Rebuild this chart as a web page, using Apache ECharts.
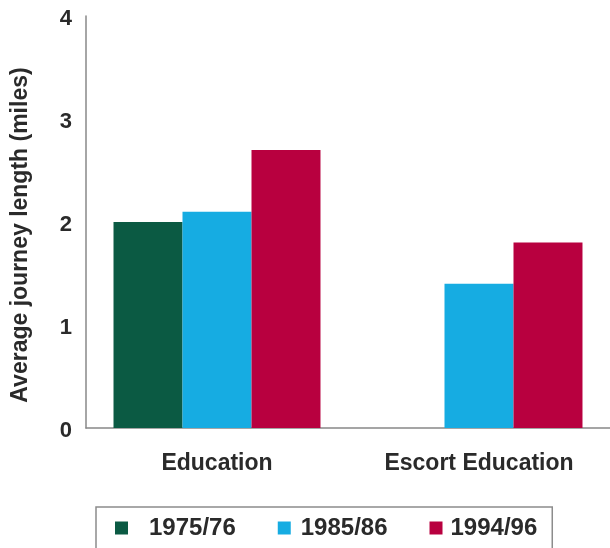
<!DOCTYPE html>
<html>
<head>
<meta charset="utf-8">
<script src="https://cdn.jsdelivr.net/npm/echarts@6/dist/echarts.min.js"></script>
<style>
  html, body { margin: 0; padding: 0; background: #fff; }
  #chart { width: 610px; height: 548px; }
</style>
</head>
<body>
<div id="chart"></div>
<script>
// Average journey length by purpose and survey period
const categories = ['Education', 'Escort Education'];
const seriesNames = ['1975/76', '1985/86', '1994/96'];
const values1975 = [2.0, null];
const values1985 = [2.1, 1.4];
const values1994 = [2.7, 1.8];
const yTicks = [0, 1, 2, 3, 4];

const colors = ['#0b5a43', '#16ace2', '#b8003f'];
const FONT = '"Liberation Sans", Arial, sans-serif';
const TEXT_COLOR = '#2a2a2a';

// extra space between each legend swatch and its label
const legendLead = { '1975/76': 16, '1985/86': 5, '1994/96': 3 };

const chart = echarts.init(document.getElementById('chart'), null, { renderer: 'canvas' });

const seriesData = [values1975, values1985, values1994];

const labelStyle = { fontSize: 24, fontWeight: 'bold', color: TEXT_COLOR, fontFamily: FONT };

const legendRich = { t: labelStyle };
Object.values(legendLead).forEach(w => { legendRich['l' + w] = { width: w, fontSize: 24 }; });

chart.setOption({
  animation: false,
  color: colors,
  textStyle: { fontFamily: FONT },
  grid: { left: 86, right: 0, top: 16, bottom: 120, containLabel: false },
  legend: {
    left: 96,
    top: 507,
    orient: 'horizontal',
    itemWidth: 13,
    itemHeight: 13,
    itemGap: 42,
    padding: [9, 15, 40, 19],
    borderColor: '#8c8c8c',
    borderWidth: 1.5,
    icon: 'rect',
    data: seriesNames,
    formatter: name => `{l${legendLead[name]}|\u00a0}{t|${name}}`,
    textStyle: Object.assign({}, labelStyle, { rich: legendRich })
  },
  xAxis: {
    type: 'category',
    data: categories,
    axisLine: { show: true, lineStyle: { color: '#888', width: 1.5 } },
    axisTick: { show: false },
    axisLabel: { margin: 24, fontSize: 23, fontWeight: 'bold', color: TEXT_COLOR, fontFamily: FONT }
  },
  yAxis: {
    type: 'value',
    min: yTicks[0],
    max: yTicks[yTicks.length - 1],
    interval: 1,
    name: 'Average journey length (miles)',
    nameLocation: 'middle',
    nameRotate: 90,
    nameGap: 54,
    nameTextStyle: { fontSize: 23, fontWeight: 'bold', color: TEXT_COLOR, fontFamily: FONT, padding: [0, 26, 0, 0] },
    axisLine: { show: true, lineStyle: { color: '#888', width: 1.5 } },
    axisTick: { show: false },
    splitLine: { show: false },
    axisLabel: {
      margin: 14,
      formatter: v => `{v|${v}}`,
      rich: { v: { fontSize: 22, fontWeight: 'bold', color: TEXT_COLOR, fontFamily: FONT, padding: [6, 0, 0, 0] } }
    }
  },
  series: seriesNames.map((name, i) => ({
    name: name,
    type: 'bar',
    data: seriesData[i],
    barGap: '0%',
    barCategoryGap: '21%',
    itemStyle: { color: colors[i] }
  }))
});
</script>
</body>
</html>
